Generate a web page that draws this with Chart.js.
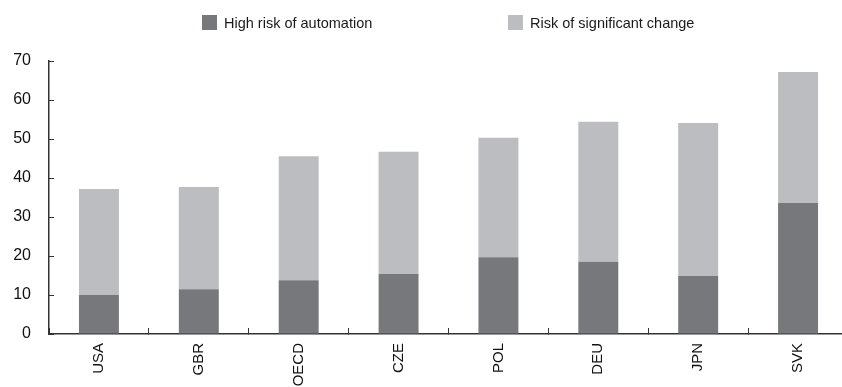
<!DOCTYPE html>
<html>
<head>
<meta charset="utf-8">
<title>Automation risk</title>
<script src="https://cdn.jsdelivr.net/npm/chart.js"></script>
<style>
  body { margin: 0; background: #fff; overflow: hidden; }
  #wrap { position: relative; width: 842px; height: 387px; overflow: hidden; }
  #legend { position: absolute; top: 0; left: 0; width: 842px; height: 44px;
            font: 14.5px "Liberation Sans", Arial, sans-serif; color: #1a1a1a; }
  .item { position: absolute; top: 15px; display: flex; align-items: center; height: 15px; }
  .sw { width: 15px; height: 15px; margin-right: 7px; }
</style>
</head>
<body>
<div id="wrap">
  <!-- plot runs a little past the right edge, as in the original -->
  <canvas id="bar-chart" width="848" height="387"></canvas>
  <div id="legend"></div>
</div>
<script>
const categories = ['USA', 'GBR', 'OECD', 'CZE', 'POL', 'DEU', 'JPN', 'SVK'];
const highRisk = [10.0, 11.5, 13.8, 15.4, 19.7, 18.5, 14.9, 33.6];
const significantChange = [27.2, 26.2, 31.8, 31.3, 30.6, 35.9, 39.2, 33.6];
const yTicks = [0, 10, 20, 30, 40, 50, 60, 70];

const FONT = '"Liberation Sans", Arial, sans-serif';
const AXIS = '#333';
const TEXT = '#111';

const chart = new Chart(document.getElementById('bar-chart'), {
  type: 'bar',
  data: {
    labels: categories,
    datasets: [{
        label: 'High risk of automation',
        data: highRisk,
        backgroundColor: '#77787c'
      }, {
        label: 'Risk of significant change',
        data: significantChange,
        backgroundColor: '#bcbdc1'
      }
    ]
  },
  options: {
    responsive: false,
    animation: false,
    barPercentage: 0.4,
    categoryPercentage: 1,
    layout: { padding: { top: 61, left: 0, right: 0, bottom: 0 } },
    plugins: {
      legend: { display: false },
      tooltip: { enabled: false }
    },
    scales: {
      x: {
        stacked: true,
        afterFit: scale => { scale.height = 53; },
        grid: { drawOnChartArea: false, tickLength: -6, color: AXIS, lineWidth: 1 },
        border: { color: AXIS, width: 1.5 },
        ticks: {
          minRotation: 90, maxRotation: 90, padding: 15, color: TEXT,
          font: { family: FONT, size: 15 }
        }
      },
      y: {
        stacked: true,
        min: yTicks[0],
        max: yTicks[yTicks.length - 1],
        afterBuildTicks: scale => { scale.ticks = yTicks.map(v => ({ value: v })); },
        afterFit: scale => { scale.width = 49; },
        grid: { drawOnChartArea: false, tickLength: -5, color: AXIS, lineWidth: 1 },
        border: { color: AXIS, width: 1.5 },
        ticks: {
          padding: 23, color: TEXT,
          font: { family: FONT, size: 16 }
        }
      }
    }
  }
});

// legend above the plot, items placed like the original
const legendPos = [202, 508];
chart.data.datasets.forEach((ds, i) => {
  const item = document.createElement('div');
  item.className = 'item';
  item.style.left = legendPos[i] + 'px';
  item.innerHTML = '<span class="sw" style="background:' + ds.backgroundColor + '"></span>' + ds.label;
  document.getElementById('legend').appendChild(item);
});
</script>
</body>
</html>
